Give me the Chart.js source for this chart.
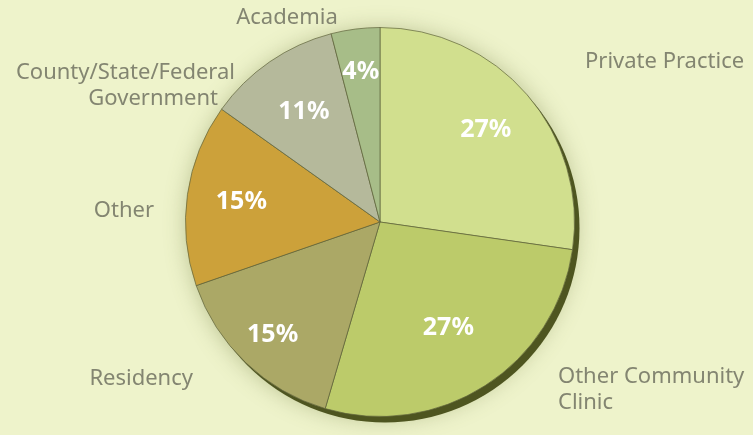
<!DOCTYPE html>
<html>
<head>
<meta charset="utf-8">
<script src="https://cdn.jsdelivr.net/npm/chart.js@4"></script>
<style>
  html, body { margin: 0; padding: 0; background: #eef3cb; }
  #wrap { width: 753px; height: 435px; position: relative; }
</style>
</head>
<body>
<div id="wrap"><canvas id="pieChart" width="753" height="435"></canvas></div>
<script>
const categories = ['Private Practice', 'Other Community Clinic', 'Residency', 'Other', 'County/State/Federal Government', 'Academia'];
const shares = [27, 27, 15, 15, 11, 4];
const sliceColors = ['#d1df8e', '#bccb6a', '#aba866', '#cca13a', '#b5b99b', '#a7bd88'];

// outside label lines and where they sit
const outsideLabels = [
    { lines: ['Private Practice'], x: 585, y: 62, align: 'left' },
    { lines: ['Other Community', 'Clinic'], x: 558, y: 377, align: 'left' },
    { lines: ['Residency'], x: 193, y: 379, align: 'right' },
    { lines: ['Other'], x: 154, y: 211, align: 'right' },
    { lines: ['County/State/Federal', 'Government'], x: [235, 218], y: 73, align: 'right' },
    { lines: ['Academia'], x: 287, y: 18, align: 'center' }
];
const labelRadius = [0.72, 0.65, 0.8, 0.72, 0.69, 0.78];

const rimShadow = {
    id: 'rimShadow',
    beforeDatasetsDraw(chart) {
        const arc = chart.getDatasetMeta(0).data[0];
        const c = chart.ctx;
        c.save();
        c.shadowColor = 'rgba(120,130,70,0.45)';
        c.shadowBlur = 22;
        c.shadowOffsetX = -4;
        c.shadowOffsetY = -4;
        c.fillStyle = '#4e5520';
        c.beginPath();
        c.arc(arc.x + 5, arc.y + 6, arc.outerRadius, 0, Math.PI * 2);
        c.fill();
        c.restore();
    }
};

const sliceText = {
    id: 'sliceText',
    afterDatasetsDraw(chart) {
        const c = chart.ctx;
        const meta = chart.getDatasetMeta(0);
        c.save();
        c.textBaseline = 'middle';
        meta.data.forEach((arc, i) => {
            const mid = (arc.startAngle + arc.endAngle) / 2;
            const r = arc.outerRadius * labelRadius[i];
            c.font = 'bold 25px "Noto Sans"';
            c.fillStyle = '#ffffff';
            c.textAlign = 'center';
            c.fillText(shares[i] + '%', arc.x + Math.cos(mid) * r, arc.y + Math.sin(mid) * r);

            const lab = outsideLabels[i];
            c.font = '22px "Noto Sans"';
            c.fillStyle = '#838571';
            c.textAlign = lab.align;
            lab.lines.forEach((line, k) => {
                const x = Array.isArray(lab.x) ? lab.x[k] : lab.x;
                c.fillText(line, x, lab.y + k * 26);
            });
        });
        c.restore();
    }
};

new Chart(document.getElementById('pieChart'), {
    type: 'pie',
    data: {
        labels: categories,
        datasets: [{
            data: shares,
            backgroundColor: sliceColors,
            borderColor: 'rgba(95,100,60,0.7)',
            borderWidth: 1
        }]
    },
    options: {
        responsive: false,
        animation: false,
        layout: { padding: { left: 185, right: 178, top: 27, bottom: 18 } },
        plugins: {
            legend: { display: false },
            tooltip: { enabled: false }
        }
    },
    plugins: [rimShadow, sliceText]
});
</script>
</body>
</html>
